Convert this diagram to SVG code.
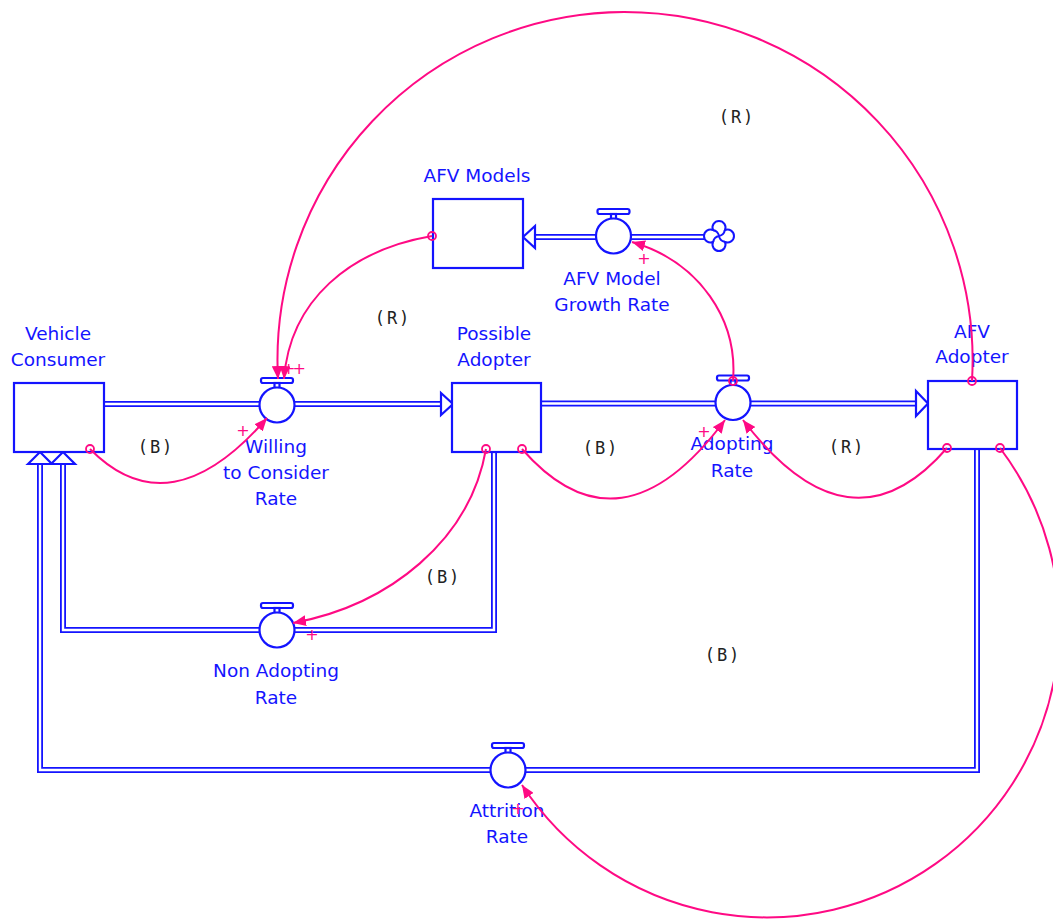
<svg xmlns="http://www.w3.org/2000/svg" width="1053" height="920" viewBox="0 0 1053 920">
<defs>
<style>
.bg{fill:#fff}
.pipe{fill:none;stroke:#1414ff;stroke-width:6;stroke-linejoin:miter}
.pipein{fill:none;stroke:#fff;stroke-width:2.4;stroke-linejoin:miter}
.parrow{fill:#fff;stroke:#1414ff;stroke-width:2.2;stroke-linejoin:miter}
.stock{fill:#fff;stroke:#1414ff;stroke-width:2.2}
.valve{fill:#fff;stroke:#1414ff;stroke-width:2.2}
.lbl{font-family:"DejaVu Sans",Verdana,sans-serif;font-size:18.5px;fill:#1414ff;text-anchor:middle}
.loop{font-family:"DejaVu Sans Mono","Liberation Mono",monospace;font-size:17px;fill:#222;text-anchor:middle;letter-spacing:2px}
.conn{fill:none;stroke:#ff0a84;stroke-width:2}
.orig{fill:none;stroke:#ff0a84;stroke-width:1.8}
.pol{font-family:"DejaVu Sans",sans-serif;font-size:16px;fill:#ff0a84;text-anchor:middle}
</style>
<marker id="ah" markerWidth="13" markerHeight="11" refX="13" refY="5.5" orient="auto" markerUnits="userSpaceOnUse">
<path d="M0,0 L13,5.5 L0,11 z" fill="#ff0a84"/>
</marker>
<g id="valveShape">
<rect x="-16" y="-27" width="32" height="5" rx="2" class="valve"/>
<rect x="-2.5" y="-22" width="5" height="5" class="valve"/>
<circle cx="0" cy="0" r="17.5" class="valve"/>
</g>
</defs>
<rect class="bg" x="0" y="0" width="1053" height="920"/>

<g id="flows">
<path class="pipe" d="M104,404 H441"/>
<path class="pipein" d="M104,404 H441"/>
<polygon class="parrow" points="441,393 453,404 441,415"/>

<path class="pipe" d="M541,403.5 H916"/>
<path class="pipein" d="M541,403.5 H916"/>
<polygon class="parrow" points="916,391 928,403.5 916,416"/>

<path class="pipe" d="M706,237 H535"/>
<path class="pipein" d="M706,237 H535"/>
<polygon class="parrow" points="535,226 523,237 535,248"/>

<path class="pipe" d="M494,452 V630 H63 V464"/>
<path class="pipein" d="M494,452 V630 H63 V464"/>
<polygon class="parrow" points="51,464 63,452 75,464"/>

<path class="pipe" d="M977,449 V770 H40 V464"/>
<path class="pipein" d="M977,449 V770 H40 V464"/>
<polygon class="parrow" points="28,464 40,452 52,464"/>
</g>

<g id="vehicle-consumer">
<rect class="stock" x="14" y="383" width="90" height="69"/>
<text class="lbl" x="58" y="340">Vehicle</text>
<text class="lbl" x="58" y="366">Consumer</text>
</g>

<g id="possible-adopter">
<rect class="stock" x="452" y="383" width="89" height="69"/>
<text class="lbl" x="494" y="340">Possible</text>
<text class="lbl" x="494" y="366">Adopter</text>
</g>

<g id="afv-adopter">
<rect class="stock" x="928" y="381" width="89" height="68"/>
<text class="lbl" x="972" y="338">AFV</text>
<text class="lbl" x="972" y="363">Adopter</text>
</g>

<g id="afv-models">
<rect class="stock" x="433" y="199" width="90" height="69"/>
<text class="lbl" x="477" y="182">AFV Models</text>
</g>

<g id="cloud">
<path d="M713,230 A6.5,6.5 0 1 1 725,230 A6.5,6.5 0 1 1 725,242 A6.5,6.5 0 1 1 713,242 A6.5,6.5 0 1 1 713,230 Z" fill="#fff" stroke="#1414ff" stroke-width="2"/>
<path d="M713,230 q5,1 6,6 M725,230 q-1,5 -6,6 M725,242 q-5,-1 -6,-6 M713,242 q1,-5 6,-6" fill="none" stroke="#1414ff" stroke-width="1.8"/>
</g>

<g id="willing-rate">
<use href="#valveShape" x="277" y="405"/>
<text class="lbl" x="276" y="453">Willing</text>
<text class="lbl" x="276" y="479">to Consider</text>
<text class="lbl" x="276" y="505">Rate</text>
</g>

<g id="adopting-rate">
<use href="#valveShape" x="733" y="402.5"/>
<text class="lbl" x="732" y="450">Adopting</text>
<text class="lbl" x="732" y="477">Rate</text>
</g>

<g id="afv-model-growth-rate">
<use href="#valveShape" x="613.5" y="236"/>
<text class="lbl" x="612" y="285">AFV Model</text>
<text class="lbl" x="612" y="311">Growth Rate</text>
</g>

<g id="non-adopting-rate">
<use href="#valveShape" x="277" y="630"/>
<text class="lbl" x="276" y="677">Non Adopting</text>
<text class="lbl" x="276" y="704">Rate</text>
</g>

<g id="attrition-rate">
<use href="#valveShape" x="508" y="770"/>
<text class="lbl" x="507" y="817">Attrition</text>
<text class="lbl" x="507" y="843">Rate</text>
</g>

<g id="connectors">
<path class="conn" d="M90,449 Q170,530 267,418" marker-end="url(#ah)"/>
<circle class="orig" cx="90" cy="449" r="4"/>
<text class="pol" x="243" y="436">+</text>

<path class="conn" d="M432,236 C350,250 290,300 284,379" marker-end="url(#ah)"/>
<circle class="orig" cx="432" cy="236" r="4"/>

<path class="conn" d="M972,381 A348.3,348.3 0 0 0 624,12 A348,348 0 0 0 278,379" marker-end="url(#ah)"/>
<circle class="orig" cx="972" cy="381" r="4"/>
<text class="pol" x="292.5" y="374" letter-spacing="-3">++</text>

<path class="conn" d="M522,449 Q620,561 725,420" marker-end="url(#ah)"/>
<circle class="orig" cx="522" cy="449" r="4"/>
<text class="pol" x="704" y="437">+</text>

<path class="conn" d="M486,449 C470,540 390,605 293,623" marker-end="url(#ah)"/>
<circle class="orig" cx="486" cy="449" r="4"/>
<text class="pol" x="312" y="640">+</text>

<path class="conn" d="M947,448 Q850,560 743,420" marker-end="url(#ah)"/>
<circle class="orig" cx="947" cy="448" r="4"/>

<path class="conn" d="M733,381 C738,320 700,262 632,242" marker-end="url(#ah)"/>
<circle class="orig" cx="733" cy="381" r="4"/>
<text class="pol" x="644" y="264">+</text>

<path class="conn" d="M1000,448 A292.6,292.6 0 1 1 522,785" marker-end="url(#ah)"/>
<circle class="orig" cx="1000" cy="448" r="4"/>
<text class="pol" x="518" y="814">+</text>
</g>

<g id="loops">
<text class="loop" x="737" y="123">(R)</text>
<text class="loop" x="393" y="324">(R)</text>
<text class="loop" x="156" y="453">(B)</text>
<text class="loop" x="601" y="454">(B)</text>
<text class="loop" x="847" y="453">(R)</text>
<text class="loop" x="443" y="583">(B)</text>
<text class="loop" x="723" y="661">(B)</text>
</g>
</svg>
